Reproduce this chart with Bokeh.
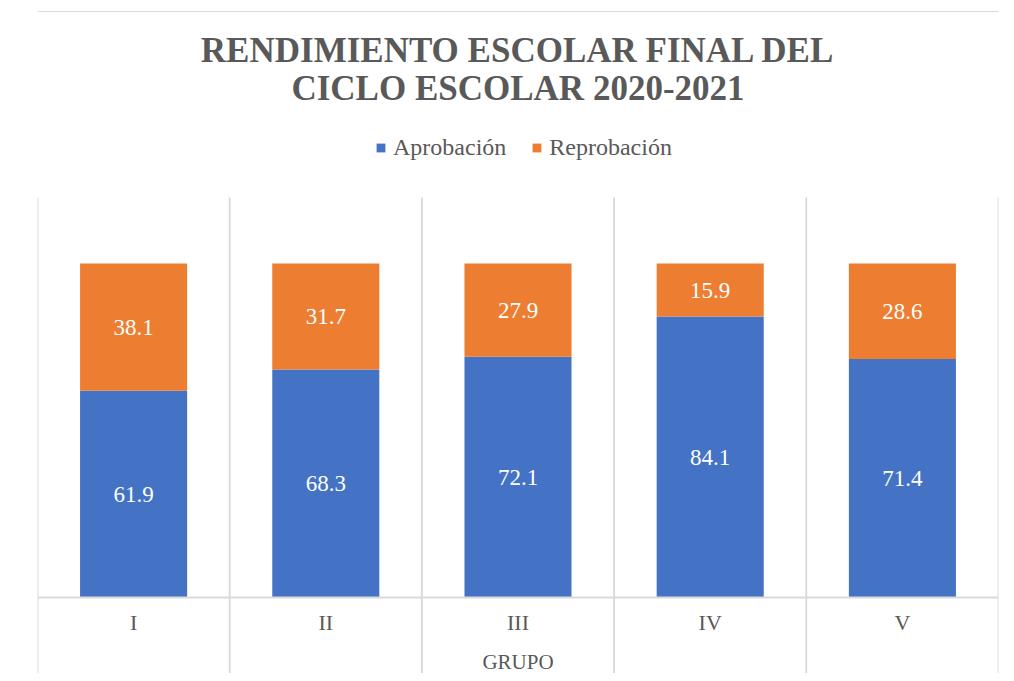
from bokeh.plotting import figure
from bokeh.models import (FactorRange, Range1d, Span, Label, Legend, LegendItem,
                          ColumnDataSource)
from bokeh.core.properties import value
from bokeh.embed import file_html
from bokeh.resources import INLINE

# ---- data ----
grupos = ["I", "II", "III", "IV", "V"]
aprobacion = [61.9, 68.3, 72.1, 84.1, 71.4]
reprobacion = [38.1, 31.7, 27.9, 15.9, 28.6]
series = ["Aprobación", "Reprobación"]
title_line1 = "RENDIMIENTO ESCOLAR FINAL DEL"
title_line2 = "CICLO ESCOLAR 2020-2021"
x_title = "GRUPO"

BLUE = "#4472C4"
ORANGE = "#ED7D31"
GRID = "#D9D9D9"
TXT = "#595959"
FONT = "Liberation Serif"

# y-range layout (frame spans the whole canvas height)
Y_TOP = 178.74
Y_BOT = -22.75
PLOT_TOP = 119.76

src = ColumnDataSource(dict(
    g=grupos,
    a_top=aprobacion,
    r_bottom=aprobacion,
    r_top=[a + b for a, b in zip(aprobacion, reprobacion)],
    a_mid=[a / 2 for a in aprobacion],
    r_mid=[a + b / 2 for a, b in zip(aprobacion, reprobacion)],
    a_lbl=[f"{v:.1f}" for v in aprobacion],
    r_lbl=[f"{v:.1f}" for v in reprobacion],
    tick_y=[-7.63] * len(grupos),
))

sep = ColumnDataSource(dict(
    x=list(range(len(grupos) + 1)),
    y0=[Y_BOT] * (len(grupos) + 1),
    y1=[PLOT_TOP] * (len(grupos) + 1),
))

p = figure(width=1006, height=673, x_range=FactorRange(factors=grupos, range_padding=0),
           y_range=Range1d(Y_BOT, Y_TOP), output_backend="svg", toolbar_location=None,
           min_border_left=37, min_border_right=8, min_border_top=0, min_border_bottom=0)
p.xaxis.visible = False
p.yaxis.visible = False
p.xgrid.visible = False
p.ygrid.visible = False
p.outline_line_color = None
p.background_fill_color = "white"
p.border_fill_color = "white"

# chart outer top border
p.add_layout(Span(location=175.45, dimension="width", line_color=GRID, line_width=1.2,
                  level="underlay"))

# category separators
p.segment(x0="x", y0="y0", x1="x", y1="y1", source=sep, line_color=GRID, line_width=1.8,
          level="underlay")

rb = p.vbar(x="g", bottom=0, top="a_top", width=0.557, source=src,
            fill_color=BLUE, line_color=None)
ro = p.vbar(x="g", bottom="r_bottom", top="r_top", width=0.557, source=src,
            fill_color=ORANGE, line_color=None)

# axis line
p.add_layout(Span(location=0, dimension="width", line_color=GRID, line_width=2.2))

# data labels
p.text(x="g", y="a_mid", text="a_lbl", source=src, text_color="white",
       text_font=value(FONT), text_font_size="23px", text_align="center",
       text_baseline="middle")
p.text(x="g", y="r_mid", text="r_lbl", source=src, text_color="white",
       text_font=value(FONT), text_font_size="23px", text_align="center",
       text_baseline="middle")

# category tick labels
p.text(x="g", y="tick_y", text="g", source=src, text_color=TXT,
       text_font=value(FONT), text_font_size="22px", text_align="center",
       text_baseline="middle")

p.add_layout(Label(x=2.5, y=-19.37, text=x_title, text_color=TXT, text_font=FONT,
                   text_font_size="21px", text_align="center", text_baseline="middle"))

# title
p.add_layout(Label(x=2.5, y=163.8, text=title_line1, text_color=TXT, text_font=FONT,
                   text_font_size="35px", text_font_style="bold", text_align="center",
                   text_baseline="alphabetic"))
p.add_layout(Label(x=2.5, y=152.4, text=title_line2, text_color=TXT, text_font=FONT,
                   text_font_size="35px", text_font_style="bold", text_align="center",
                   text_baseline="alphabetic"))

legend = Legend(items=[LegendItem(label=series[0], renderers=[rb]),
                       LegendItem(label=series[1], renderers=[ro])],
                orientation="horizontal", location=(338, 512),
                label_text_font=FONT, label_text_font_size="24px", label_text_color=TXT,
                glyph_width=11, glyph_height=11, label_standoff=7, spacing=25,
                padding=0, margin=0, border_line_color=None, background_fill_alpha=0)
p.add_layout(legend, "center")

open("out.html", "w").write(file_html(p, INLINE))
